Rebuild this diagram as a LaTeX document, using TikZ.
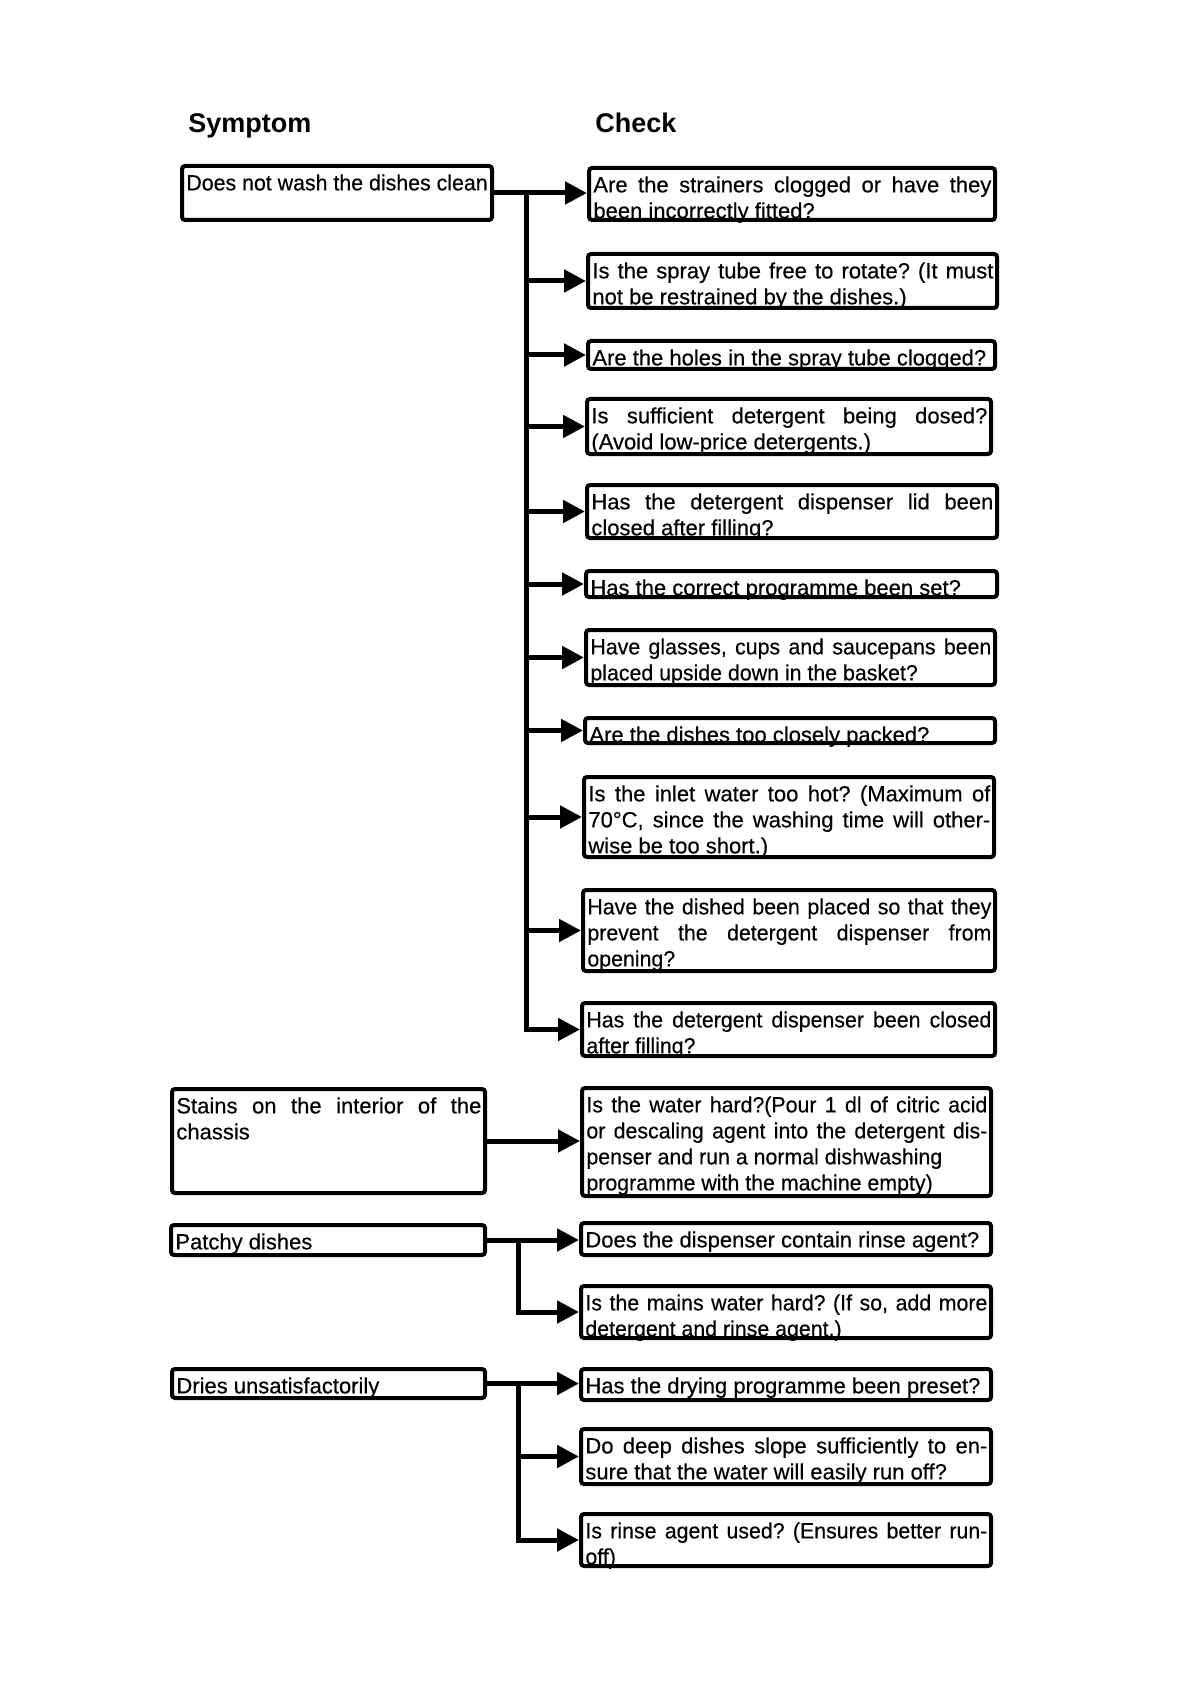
\documentclass[tikz,border=0pt]{standalone}
\usepackage{fontspec}
\setmainfont[FakeBold=0.4]{Liberation Sans}
\newfontfamily\semi[FakeStretch=0.97,FakeBold=0.4]{Liberation Sans}
\newfontfamily\hdfont{Liberation Sans}
\usetikzlibrary{arrows.meta,calc}
\tolerance=9999
\hbadness=10000
\hyphenpenalty=10000
\exhyphenpenalty=10000
\frenchspacing
\newcommand\chk[6]{%
  \pgfmathsetlengthmacro\chkW{(#4-#2-4)*0.5pt}%
  \pgfmathsetlengthmacro\chkH{(#5-#3-4)*0.5pt}%
  \pgfmathsetlengthmacro\chkT{(#4-#2-12)*0.5pt}%
  \node[boxst, minimum width=\chkW, minimum height=\chkH] (#1) at ({(#2+#4)/2},{(#3+#5)/2}) {};
  \node[txtst, text width=\chkT] (#1t) at ({#2+6},{#3+10}) {#6};}
\begin{document}
\begin{tikzpicture}[x=0.5pt,y=-0.5pt,
  boxst/.style={draw, line width=2pt, rounded corners=1.5pt, inner sep=0pt},
  txtst/.style={anchor=north west, inner sep=0pt, align=justify,
    font=\fontsize{11}{13}\selectfont\frenchspacing},
  hdr/.style={anchor=base west, inner sep=0pt, font=\hdfont\fontsize{13.5}{16}\selectfont\bfseries},
  conn/.style={line width=2.5pt},
  arr/.style={conn, -{Triangle[length=11pt,width=11pt]}}]
\useasboundingbox (0,0) rectangle (1190,1684);

\node[hdr] (hs) at (188,133) {Symptom};
\node[hdr] (hc) at (595,133) {Check};

% symptom boxes
\chk{L1}{180}{164}{494}{222}{\semi Does not wash the dishes clean}
\chk{L2}{170}{1087}{487}{1195}{Stains on the interior of the\linebreak chassis}
\chk{L3}{169}{1223}{487}{1257}{Patchy dishes}
\chk{L4}{170}{1367}{487}{1400}{Dries unsatisfactorily}

% check boxes
\chk{R1}{587}{166}{997}{222}{Are the strainers clogged or have they\linebreak been incorrectly fitted?}
\chk{R2}{586}{252}{999}{310}{Is the spray tube free to rotate? (It must\linebreak not be restrained by the dishes.)}
\chk{R3}{586}{339}{997}{371}{Are the holes in the spray tube clogged?}
\chk{R4}{585}{397}{993}{456}{Is sufficient detergent being dosed?\linebreak (Avoid low-price detergents.)}
\chk{R5}{585}{483}{999}{540}{Has the detergent dispenser lid been\linebreak closed after filling?}
\chk{R6}{584}{569}{999}{599}{Has the correct programme been set?}
\chk{R7}{584}{628}{997}{687}{\semi Have glasses, cups and saucepans been\linebreak placed upside down in the basket?}
\chk{R8}{583}{716}{997}{745}{Are the dishes too closely packed?}
\chk{R9}{582}{775}{996}{859}{Is the inlet water too hot? (Maximum of\linebreak 70°C, since the washing time will other-\linebreak wise be too short.)}
\chk{R10}{581}{888}{997}{973}{\semi Have the dished been placed so that they\linebreak prevent the detergent dispenser from\linebreak opening?}
\chk{R11}{580}{1001}{997}{1058}{\semi Has the detergent dispenser been closed\linebreak after filling?}
\chk{R12}{580}{1086}{993}{1198}{\semi Is the water hard?(Pour 1 dl of citric acid\linebreak or descaling agent into the detergent dis-\linebreak penser and run a normal dishwashing\newline programme with the machine empty)}
\chk{R13}{579}{1221}{993}{1257}{Does the dispenser contain rinse agent?}
\chk{R14}{579}{1284}{993}{1340}{\semi Is the mains water hard? (If so, add more\linebreak detergent and rinse agent.)}
\chk{R15}{579}{1367}{993}{1402}{Has the drying programme been preset?}
\chk{R16}{579}{1427}{993}{1486}{Do deep dishes slope sufficiently to en-\linebreak sure that the water will easily run off?}
\chk{R17}{579}{1512}{993}{1568}{\semi Is rinse agent used? (Ensures better run-\linebreak off)}

% group 1
\draw[arr] (L1.east) -- (L1.east -| R1.west);
\path (L1.east) -- ++(32,0) coordinate (T1);
\draw[arr] (T1) -- (T1 |- R11.west) -- (R11.west);
\foreach \r in {R2,R3,R4,R5,R6,R7,R8,R9,R10}
  \draw[arr] (T1 |- \r.west) -- (\r.west);

% group 2
\draw[arr] (L2.east) -- (L2.east -| R12.west);

% group 3
\draw[arr] (L3.east) -- (L3.east -| R13.west);
\path (L3.east) -- ++(31,0) coordinate (T3);
\draw[arr] (T3) -- (T3 |- R14.west) -- (R14.west);

% group 4
\draw[arr] (L4.east) -- (L4.east -| R15.west);
\path (L4.east) -- ++(31,0) coordinate (T4);
\draw[arr] (T4) -- (T4 |- R17.west) -- (R17.west);
\draw[arr] (T4 |- R16.west) -- (R16.west);
\end{tikzpicture}
\end{document}
